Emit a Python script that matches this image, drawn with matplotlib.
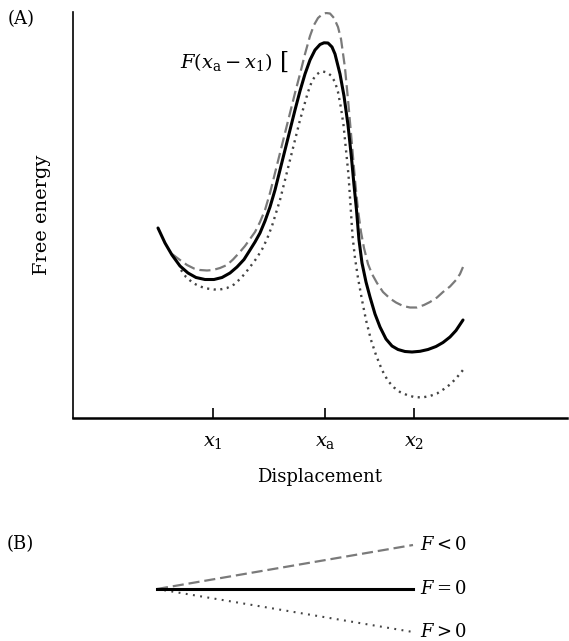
import matplotlib
matplotlib.use("Agg")
import matplotlib.pyplot as plt

plt.rcParams['font.family'] = ['DejaVu Serif']
plt.rcParams['mathtext.fontset'] = 'dejavuserif'

# ---------------- data (arbitrary units: displacement, free energy) ----------------
tick_pos = [140, 252, 341]
tick_labels = [r'$x_1$', r'$x_\mathrm{a}$', r'$x_2$']

# F = 0 (solid)
solid_x = [85, 92, 99, 107, 115, 123, 132, 141, 149, 157, 164, 171, 177, 182, 187,
           192, 197, 202, 207, 212, 217, 222, 227, 232, 237, 242, 247, 251, 255, 259,
           262, 267, 271, 275, 278.5, 281, 283.5, 286, 289, 293, 297, 302, 307, 313,
           319, 325, 332, 339, 347, 355, 363, 370, 377, 383, 390]
solid_y = [190, 175, 163, 152, 145, 140.5, 138.5, 138.5, 140.5, 145, 151, 158.5, 168, 176, 185,
           197, 211, 228, 248, 268, 288, 308, 327, 344, 358, 368, 373.5, 375.2, 375, 371,
           364, 344, 322, 293, 260, 233, 208, 178, 155, 136, 121, 104, 91, 79,
           72, 68.5, 66.5, 66, 66.7, 68.5, 71.5, 75.5, 81, 87.5, 98]

# F < 0 (dashed)
dash_x = [99, 107, 114, 121, 127, 134, 140, 147, 154, 160, 166, 172, 177, 182, 187,
          192, 197, 202, 207, 212, 217, 222, 227, 232, 237, 241, 245, 249, 253, 257,
          261, 265, 268, 272, 275.5, 279, 282, 285, 288, 291, 295, 299, 304, 310, 317,
          323, 330, 337, 344, 351, 357, 364, 370, 377, 383, 387, 390]
dash_y = [164, 158, 153, 149.5, 148, 147.5, 148, 150, 153, 158.5, 165, 172, 179, 186, 196,
          208, 225, 245, 265, 285, 305, 325, 344, 364, 382, 393, 400, 403.5, 405, 404.5,
          400, 391, 379, 350, 313, 273, 238, 208, 186, 170, 154, 144, 135, 126, 119.5,
          115.5, 112, 110.5, 110.5, 113, 116, 120.5, 126, 131.5, 138, 144, 151]

# F > 0 (dotted)
dot_x = [108, 113, 120, 127, 134, 141, 147, 154, 161, 167, 172, 177, 183, 189, 194,
         199, 203, 207, 211, 215, 219, 223, 227, 231, 235, 239, 243, 247, 250, 254,
         258, 262, 265, 268, 270.5, 273, 275.5, 277.5, 279.5, 282, 285, 289, 293, 298, 303,
         309, 315, 321, 327, 334, 341, 349, 357, 364, 371, 377, 383, 390]
dot_y = [148, 141, 135, 131.5, 129.5, 128.5, 128.5, 130, 133.5, 139, 144.5, 151, 159, 168.5, 179,
         192, 205, 218, 234, 250, 266, 282, 298, 312, 326, 337, 343, 346, 346.5, 345.5,
         342.5, 336, 326, 310, 293, 268, 243, 213, 182, 160, 140, 118, 98, 78, 63,
         48, 37, 30.5, 26, 23, 21, 20.5, 22, 24.5, 29, 33.5, 39.5, 48]

# panel B: tilt lines (start, end)
b_x = [84, 340]
b_less = [0, 44]
b_zero = [0, 0]
b_more = [0, -43]
b_labels = [r'$F < 0$', r'$F = 0$', r'$F > 0$']

# ---------------- figure ----------------
W, H = 569, 641
fig = plt.figure(figsize=(W / 100, H / 100), dpi=100)

def fx(px):
    return px / W

def fy(py):
    return 1 - py / H

# Panel A axes
axA = fig.add_axes([fx(73), fy(418), (567 - 73) / W, (418 - 12) / H])
axA.set_xlim(0, 494)
axA.set_ylim(0, 406)

axA.plot(dash_x, dash_y, color='#7a7a7a', lw=1.6, linestyle=(0, (5, 2.2)))
axA.plot(dot_x, dot_y, color='#444444', lw=1.7, linestyle=(0, (0.9, 1.9)))
axA.plot(solid_x, solid_y, color='black', lw=2.2, solid_capstyle='round',
         solid_joinstyle='round')

for s in ['top', 'right']:
    axA.spines[s].set_visible(False)
axA.spines['left'].set_linewidth(1.2)
axA.spines['bottom'].set_linewidth(1.8)
axA.set_yticks([])
axA.set_xticks(tick_pos)
axA.set_xticklabels(tick_labels, fontsize=14)
axA.tick_params(axis='x', direction='in', length=7, width=1.2, pad=11)
axA.set_xlabel('Displacement', fontsize=13, labelpad=12)
axA.set_ylabel('Free energy', fontsize=14, labelpad=16)

axA.text(200, 356, r'$F(x_\mathrm{a}-x_1)$', fontsize=14, ha='right', va='center')
axA.text(207, 356, '[', fontsize=17, ha='left', va='center')

fig.text(fx(8), fy(19), '(A)', fontsize=13, ha='left', va='center')
fig.text(fx(7), fy(544), '(B)', fontsize=13, ha='left', va='center')

# Panel B axes
axB = fig.add_axes([fx(73), fy(641), (567 - 73) / W, (641 - 520) / H])
axB.set_xlim(0, 494)
axB.set_ylim(-52, 69)
axB.axis('off')
axB.plot(b_x, b_less, color='#7a7a7a', lw=1.6, linestyle=(0, (5, 2.2)))
axB.plot(b_x, b_more, color='#444444', lw=1.5, linestyle=(0, (0.9, 2.6)))
axB.plot(b_x, b_zero, color='black', lw=2.2)
for yv, lab in zip([b_less[1], b_zero[1], b_more[1]], b_labels):
    axB.text(b_x[1] + 7, yv, lab, fontsize=13, ha='left', va='center')

fig.savefig('out.png', dpi=100)
